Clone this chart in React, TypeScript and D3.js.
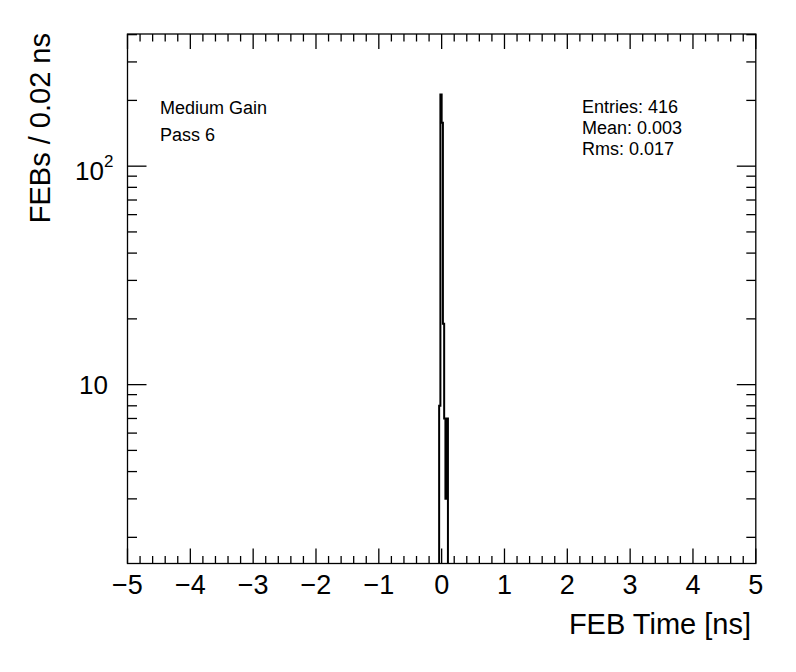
import React from "react";
import * as d3 from "d3";

const binLow = [-0.04, -0.02, 0.0, 0.02, 0.04, 0.06, 0.08];
const binCounts = [8, 213, 158, 19, 7, 3, 7];
const binWidth = 0.02;
const xTickValues = [-5, -4, -3, -2, -1, 0, 1, 2, 3, 4, 5];
const xTickLabels = ["\u22125", "\u22124", "\u22123", "\u22122", "\u22121", "0", "1", "2", "3", "4", "5"];
const statLines = ["Entries: 416", "Mean: 0.003", "Rms: 0.017"];
const infoLines = ["Medium Gain", "Pass 6"];

const W = 796;
const H = 672;
const L = 127.5, R = 755.8, T = 34, B = 563.5;
const FONT = "'Liberation Sans', Arial, Helvetica, sans-serif";

export default function App() {
  const x = d3.scaleLinear().domain([-5, 5]).range([L, R]);
  const y = d3.scaleLog().domain([1.518, 402.7]).range([B, T]);

  const pts: [number, number][] = [];
  pts.push([x(binLow[0]), B + 5]);
  binLow.forEach((lo, i) => {
    pts.push([x(lo), y(binCounts[i])]);
    pts.push([x(lo + binWidth), y(binCounts[i])]);
  });
  pts.push([x(binLow[binLow.length - 1] + binWidth), B + 5]);
  const stepPath = d3.line()(pts) as string;

  const minorX: number[] = [];
  for (let i = -50; i <= 50; i += 2) {
    if (i % 10 !== 0) minorX.push(i / 10);
  }
  const majorY = [10, 100];
  const minorY: number[] = [];
  [1, 10, 100].forEach((dec) => {
    for (let k = 2; k <= 9; k++) {
      const v = k * dec;
      if (v > 1.518 && v < 402.7 && v !== 10 && v !== 100) minorY.push(v);
    }
  });

  const sw = 1.3;
  return (
    <svg width={W} height={H} style={{ position: "absolute", left: 0, top: 0, background: "#fff" }}>
      <rect x={0} y={0} width={W} height={H} fill="#fff" />
      <defs>
        <clipPath id="frame">
          <rect x={L} y={T} width={R - L} height={B - T} />
        </clipPath>
      </defs>
      <path d={stepPath} fill="none" stroke="#000" strokeWidth={2} clipPath="url(#frame)" />
      <rect x={L} y={T} width={R - L} height={B - T} fill="none" stroke="#000" strokeWidth={sw} />
      {xTickValues.map((v) => (
        <g key={"xt" + v}>
          <line x1={x(v)} x2={x(v)} y1={B} y2={B - 15} stroke="#000" strokeWidth={sw} />
          <line x1={x(v)} x2={x(v)} y1={T} y2={T + 15} stroke="#000" strokeWidth={sw} />
        </g>
      ))}
      {minorX.map((v) => (
        <g key={"xm" + v}>
          <line x1={x(v)} x2={x(v)} y1={B} y2={B - 7.5} stroke="#000" strokeWidth={sw} />
          <line x1={x(v)} x2={x(v)} y1={T} y2={T + 7.5} stroke="#000" strokeWidth={sw} />
        </g>
      ))}
      {majorY.map((v) => (
        <g key={"ym" + v}>
          <line x1={L} x2={L + 19} y1={y(v)} y2={y(v)} stroke="#000" strokeWidth={sw} />
          <line x1={R} x2={R - 19} y1={y(v)} y2={y(v)} stroke="#000" strokeWidth={sw} />
        </g>
      ))}
      {minorY.map((v) => (
        <g key={"yn" + v}>
          <line x1={L} x2={L + 9.5} y1={y(v)} y2={y(v)} stroke="#000" strokeWidth={sw} />
          <line x1={R} x2={R - 9.5} y1={y(v)} y2={y(v)} stroke="#000" strokeWidth={sw} />
        </g>
      ))}
      {xTickValues.map((v, i) => (
        <text key={"xl" + v} x={x(v)} y={594} textAnchor="middle" fontFamily={FONT} fontSize={27}>
          {xTickLabels[i]}
        </text>
      ))}
      <text x={108} y={y(10) + 9.5} textAnchor="end" fontFamily={FONT} fontSize={26}>10</text>
      <text x={104} y={y(100) + 14} textAnchor="end" fontFamily={FONT} fontSize={26}>10</text>
      <text x={104} y={y(100) + 1} textAnchor="start" fontFamily={FONT} fontSize={17}>2</text>
      <text x={751} y={634} textAnchor="end" fontFamily={FONT} fontSize={29}>FEB Time [ns]</text>
      <text transform={`translate(50,33) rotate(-90)`} textAnchor="end" fontFamily={FONT} fontSize={29}>
        FEBs / 0.02 ns
      </text>
      {infoLines.map((s, i) => (
        <text key={s} x={160} y={113.5 + i * 27} fontFamily={FONT} fontSize={18}>{s}</text>
      ))}
      {statLines.map((s, i) => (
        <text key={s} x={582} y={112.5 + i * 21} fontFamily={FONT} fontSize={18}>{s}</text>
      ))}
    </svg>
  );
}
